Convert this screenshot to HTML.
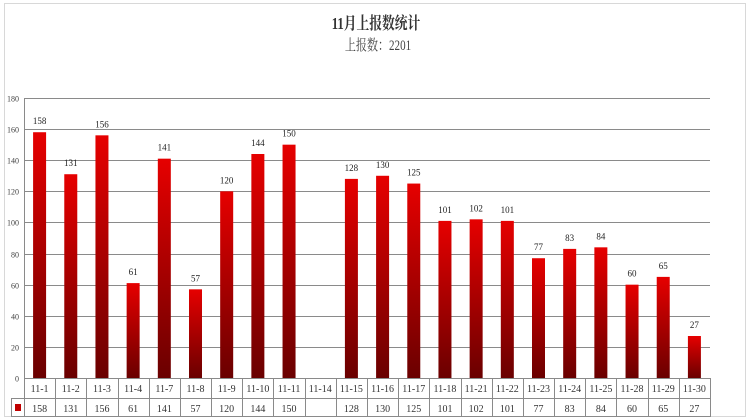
<!DOCTYPE html>
<html><head><meta charset="utf-8"><style>
html,body{margin:0;padding:0;background:#fff;}
svg{display:block;}
</style></head><body>
<svg width="752" height="420" xmlns="http://www.w3.org/2000/svg" font-family="'Liberation Serif','Noto Serif CJK SC',serif">
<defs>
<linearGradient id="g" x1="0" y1="0" x2="0" y2="1">
<stop offset="0" stop-color="#e60000"/>
<stop offset="1" stop-color="#6a0000"/>
</linearGradient>
</defs>
<rect x="4.5" y="3.5" width="741" height="413" fill="#fff" stroke="#d8d8d8"/>
<text transform="translate(376,29) scale(0.85,1.15)" text-anchor="middle" font-size="15" font-weight="bold" fill="#333">11月上报数统计</text>
<text transform="translate(378,50) scale(0.85,1.15)" text-anchor="middle" font-size="13" fill="#444">上报数：2201</text>
<g id="grid"></g>
</svg>
<script>
var labels=["11-1","11-2","11-3","11-4","11-7","11-8","11-9","11-10","11-11","11-14","11-15","11-16","11-17","11-18","11-21","11-22","11-23","11-24","11-25","11-28","11-29","11-30"];
var vals=[158,131,156,61,141,57,120,144,150,null,128,130,125,101,102,101,77,83,84,60,65,27];
var ns="http://www.w3.org/2000/svg",svg=document.querySelector("svg");
function el(t,a,txt){var e=document.createElementNS(ns,t);for(var k in a)e.setAttribute(k,a[k]);if(txt!=null)e.textContent=txt;svg.appendChild(e);return e;}
var L=24,R=710,T=98,B=378,w=(R-L)/22;
for(var i=0;i<=9;i++){var y=B-(B-T)*i/9;y=Math.round(y)+0.5;
el("line",{x1:L,y1:y,x2:R,y2:y,stroke:"#8a8a8a"});
el("text",{x:19,y:y+3,"text-anchor":"end","font-size":"8",fill:"#444"},String(i*20));}
el("line",{x1:L+.5,y1:T,x2:L+.5,y2:B,stroke:"#8a8a8a"});
for(var i=0;i<22;i++){var cx=L+w*(i+.5);var v=vals[i];
if(v!=null){var h=v*(B-T)/180;
el("rect",{x:cx-6.5,y:B-h,width:13,height:h,fill:"url(#g)"});
el("text",{x:cx,y:B-h-8,"text-anchor":"middle","font-size":"9",fill:"#222"},String(v));}
el("text",{x:cx,y:392,"text-anchor":"middle","font-size":"10",fill:"#333"},labels[i]);
el("text",{x:cx,y:412,"text-anchor":"middle","font-size":"10",fill:"#333"},v==null?"":String(v));}
el("line",{x1:L,y1:378.5,x2:R,y2:378.5,stroke:"#8a8a8a"});
el("line",{x1:11,y1:398.5,x2:R,y2:398.5,stroke:"#8a8a8a"});
el("line",{x1:11,y1:416.5,x2:R,y2:416.5,stroke:"#8a8a8a"});
el("line",{x1:11.5,y1:398,x2:11.5,y2:417,stroke:"#8a8a8a"});
for(var i=0;i<=22;i++){var x=Math.round(L+w*i)+.5;el("line",{x1:x,y1:378,x2:x,y2:417,stroke:"#8a8a8a"});}
el("rect",{x:15,y:404,width:6,height:7,fill:"#c00000"});
</script>
</body></html>
